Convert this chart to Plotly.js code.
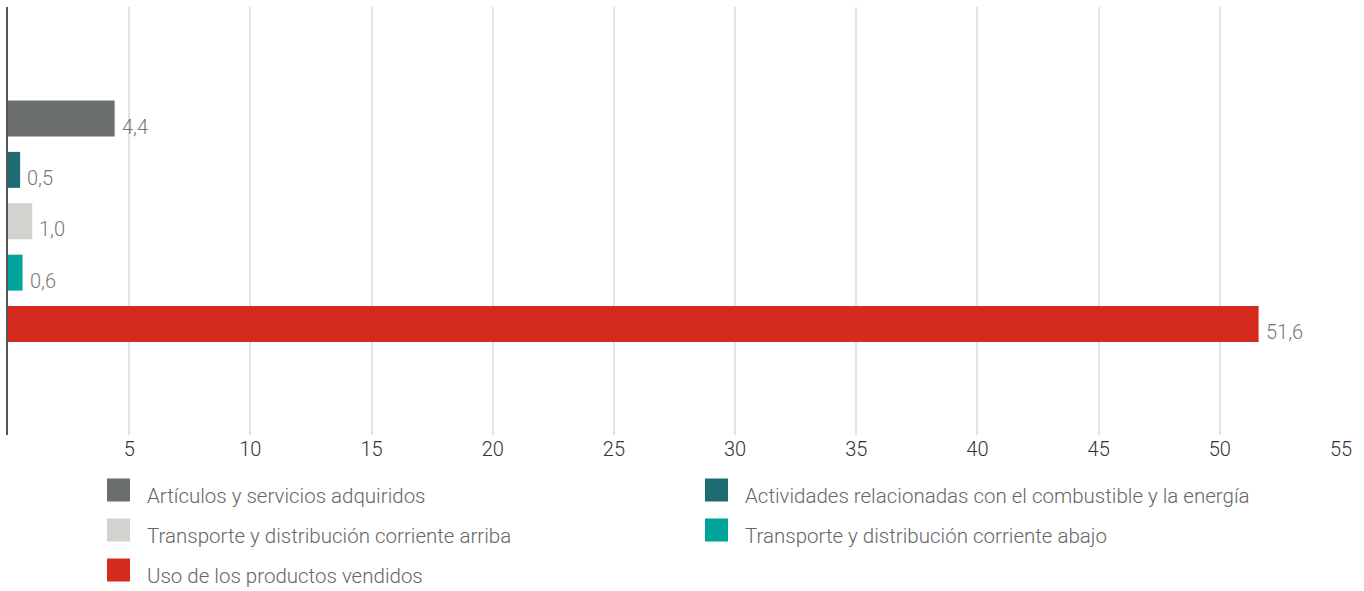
<!DOCTYPE html>
<html>
<head>
<meta charset="utf-8">
<script src="https://cdn.plot.ly/plotly-3.0.1.min.js"></script>
<style>html,body{margin:0;padding:0;background:#fff;}#chart{width:1364px;height:591px;}</style>
</head>
<body>
<div id="chart"></div>
<script>
const categories = [
  "Artículos y servicios adquiridos",
  "Actividades relacionadas con el combustible y la energía",
  "Transporte y distribución corriente arriba",
  "Transporte y distribución corriente abajo",
  "Uso de los productos vendidos"
];
const values = [4.4, 0.5, 1.0, 0.6, 51.6];
const colors = ["#6b6e6f", "#1e6b73", "#d3d2ce", "#00a399", "#d52b1f"];
const tickVals = [5, 10, 15, 20, 25, 30, 35, 40, 45, 50, 55];
const tickText = ["5", "10", "15", "20", "25", "30", "35", "40", "45", "50", "55"];

const FONT = "Roboto, 'DejaVu Sans', sans-serif";

const traces = categories.map((c, i) => ({
  type: "bar",
  orientation: "h",
  name: c,
  y: [c],
  x: [values[i]],
  width: 0.7,
  marker: { color: colors[i] },
  hoverinfo: "x+name",
  showlegend: false
}));

// plot area geometry (px)
const W = 1364, H = 591;
const mL = 8, mR = 23, mT = 7, mB = 156;
const pw = W - mL - mR, ph = H - mT - mB;
const px2x = p => (p - mL) / pw;
const py2y = p => (H - mB - p) / ph;

const shapes = [];
const annotations = [];

// value labels, positioned by the axes' own scales
categories.forEach((c, i) => {
  annotations.push({
    xref: "x", yref: "y",
    x: values[i], y: c,
    xanchor: "left", yanchor: "middle",
    xshift: 5, yshift: -8,
    text: values[i].toFixed(1).replace(".", ","),
    showarrow: false,
    font: { family: FONT, size: 20, color: "#777777", weight: 300 }
  });
});

// legend (two columns)
const colX = [107, 705];
const rowY = [490, 530, 570];
const sq = 23;
categories.forEach((c, k) => {
  const col = k % 2, row = Math.floor(k / 2);
  const x0 = colX[col], yc = rowY[row];
  shapes.push({
    type: "rect", xref: "paper", yref: "paper",
    x0: px2x(x0), x1: px2x(x0 + sq),
    y0: py2y(yc - sq / 2), y1: py2y(yc + sq / 2),
    fillcolor: colors[k], line: { width: 0 }
  });
  annotations.push({
    xref: "paper", yref: "paper",
    x: px2x(x0 + 38), y: py2y(yc + 6),
    xanchor: "left", yanchor: "middle",
    text: c, showarrow: false,
    font: { family: FONT, size: 20.5, color: "#666666", weight: 300 }
  });
});

const layout = {
  width: W, height: H,
  margin: { l: mL, r: mR, t: mT, b: mB, pad: 0 },
  paper_bgcolor: "#ffffff",
  plot_bgcolor: "#ffffff",
  separators: ",.",
  barmode: "overlay",
  showlegend: false,
  xaxis: {
    range: [0, 55],
    tickvals: tickVals,
    ticktext: tickText,
    showgrid: true,
    gridcolor: "#e3e3e3",
    gridwidth: 2,
    zeroline: false,
    showline: false,
    ticks: "",
    tickfont: { family: FONT, size: 20, color: "#333333", weight: 300 },
    fixedrange: true
  },
  yaxis: {
    type: "category",
    categoryorder: "array",
    categoryarray: categories,
    range: [6.16, -2.17],
    showticklabels: false,
    showgrid: false,
    zeroline: false,
    showline: true,
    linecolor: "#555555",
    linewidth: 2,
    ticks: "",
    fixedrange: true
  },
  shapes: shapes,
  annotations: annotations
};

Plotly.newPlot("chart", traces, layout, { displayModeBar: false, responsive: false });
</script>
</body>
</html>
